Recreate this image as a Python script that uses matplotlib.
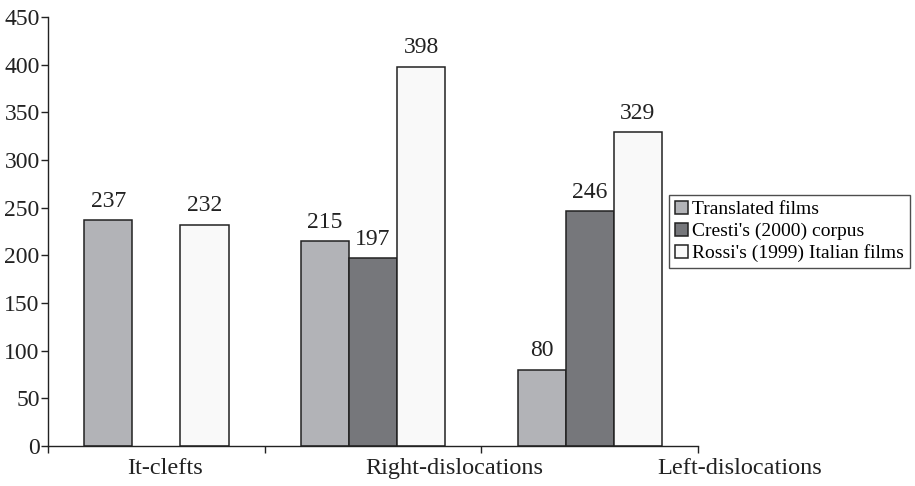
import numpy as np
import matplotlib.pyplot as plt

categories = ["It-clefts", "Right-dislocations", "Left-dislocations"]
series = ["Translated films", "Cresti's (2000) corpus", "Rossi's (1999) Italian films"]
translated = [237, 215, 80]
cresti = [np.nan, 197, 246]
rossi = [232, 398, 329]
label_offsets = [0.04, 1.375, 2.69]

colors = ["#b2b3b7", "#76777b", "#f9f9f9"]

plt.rcParams["font.family"] = ["Liberation Serif", "DejaVu Serif"]

fig = plt.figure(figsize=(9.15, 4.86), dpi=100)
ax = fig.add_axes([0.0525, 0.0823, 0.7105, 0.8827])

x = np.arange(len(categories))
w = 0.222
for i, (vals, name) in enumerate(zip([translated, cresti, rossi], series)):
    bars = ax.bar(x + (i - 1) * w, vals, w, color=colors[i], edgecolor="#222222",
                  linewidth=1.1, label=name)
    labels = ["" if np.isnan(v) else f"{v:g}" for v in np.asarray(vals, float)]
    ax.bar_label(bars, labels=labels, padding=6, fontsize=17, color="#222222")

ax.set_xlim(-0.5, 2.5)
ax.set_ylim(0, 450)
ax.set_yticks(np.arange(0, 451, 50))
ax.set_xticks(np.arange(-0.5, 2.6, 1.0))
ax.set_xticklabels([])
ax.tick_params(axis="y", labelsize=17, length=5, width=1, colors="#222222", pad=1)
ax.tick_params(axis="x", length=5, width=1, colors="#222222")

for pos, name in zip(label_offsets, categories):
    ax.text(pos, -0.028, name, transform=ax.get_xaxis_transform(), ha="center", va="top",
            fontsize=17.5, color="#222222")

for s in ["top", "right"]:
    ax.spines[s].set_visible(False)
for s in ["left", "bottom"]:
    ax.spines[s].set_color("#222222")
    ax.spines[s].set_linewidth(1)

leg = fig.legend(loc="upper left", bbox_to_anchor=(0.731, 0.599), fontsize=14,
                 frameon=True, fancybox=False, edgecolor="#222222", handlelength=0.7,
                 handleheight=0.7, handletextpad=0.2, borderpad=0.3, labelspacing=0.22,
                 borderaxespad=0)
leg.get_frame().set_linewidth(1)

fig.savefig("out.png", dpi=100)
